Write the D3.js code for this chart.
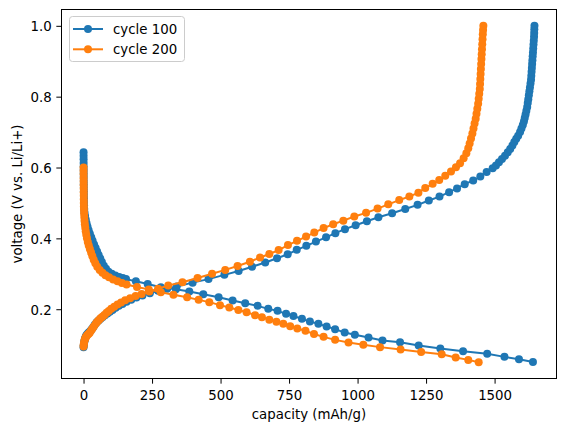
<!DOCTYPE html>
<html>
<head>
<meta charset="utf-8">
<script src="https://cdn.jsdelivr.net/npm/d3@7"></script>
<style>
  html, body { margin: 0; padding: 0; background: #ffffff; }
  svg { display: block; }
  text { font-family: "DejaVu Sans", sans-serif; fill: #000; }
</style>
</head>
<body>
<svg id="chart" width="567" height="432"></svg>
<script>
// ---------------- data ----------------
const seriesNames = ["cycle 100", "cycle 200"];
const seriesColors = ["#1f77b4", "#ff7f0e"];

// cycle 100 – discharge branch (capacity mAh/g, voltage V)
const cycle100DischargeCap = [0, 0.1, 0.2, 0.3, 0.4, 0.5, 0.6, 0.7, 0.8, 0.9, 1.0, 1.2, 1.4, 1.6, 1.8, 2.0, 2.5,
  3.5, 5.5, 8, 11, 14.5, 18.5, 23, 28, 33, 38.5, 44, 49.5, 55, 61, 67, 74, 82, 91, 103, 116, 130, 143,
  155, 191, 234, 282, 337, 386, 437, 493, 544, 590, 635, 674, 708, 739, 766, 797, 826, 857, 887, 918, 953, 990,
  1040, 1091, 1155, 1223, 1302, 1385, 1473, 1536, 1589, 1640];
const cycle100DischargeV = [0.643, 0.633, 0.623, 0.613, 0.603, 0.593, 0.583, 0.573, 0.563, 0.553, 0.543, 0.533, 0.523, 0.513, 0.503, 0.493, 0.483,
  0.473, 0.463, 0.453, 0.443, 0.433, 0.423, 0.413, 0.403, 0.393, 0.383, 0.373, 0.363, 0.353, 0.343, 0.333, 0.323, 0.314, 0.306, 0.300, 0.295, 0.291, 0.288,
  0.285, 0.279, 0.271, 0.262, 0.2566, 0.250, 0.2425, 0.234, 0.2245, 0.217, 0.2095, 0.201, 0.1954, 0.187, 0.181, 0.1728, 0.165, 0.159, 0.151, 0.1437, 0.134, 0.128,
  0.120, 0.1115, 0.107, 0.0974, 0.089, 0.0816, 0.074, 0.0655, 0.059, 0.051];

// cycle 100 – charge branch
const cycle100ChargeCap = [0, 0.7, 1.6, 2.8, 4.2, 6, 8.2, 11, 15, 19, 24, 29, 35, 41, 48, 55, 62, 70, 78, 87, 96, 106, 117, 129, 142, 157, 174, 193, 215, 242, 272, 305, 340,
  398, 456, 514, 566, 615, 663, 706, 745, 778, 813, 848, 885, 919, 954, 993, 1034, 1076, 1126, 1174, 1219, 1260, 1299, 1334, 1363, 1391, 1422, 1448, 1471, 1493,
  1505, 1516, 1527, 1538, 1548, 1557, 1565, 1572, 1579, 1586, 1593, 1598, 1603, 1607, 1610, 1613, 1616, 1619, 1621, 1623, 1625, 1627, 1629, 1631, 1633, 1634, 1635, 1636, 1637, 1638, 1639, 1640, 1641, 1642, 1643, 1644, 1644.5, 1645, 1645.5];
const cycle100ChargeV = [0.093, 0.098, 0.103, 0.108, 0.113, 0.118, 0.123, 0.127, 0.131, 0.134, 0.138, 0.143, 0.149, 0.156, 0.163, 0.168, 0.173, 0.178, 0.183, 0.188, 0.193, 0.198, 0.204, 0.210, 0.215, 0.221, 0.227, 0.233, 0.239, 0.245, 0.252, 0.258, 0.264,
  0.275, 0.285, 0.297, 0.308, 0.320, 0.332, 0.344, 0.355, 0.3676, 0.379, 0.391, 0.403, 0.4147, 0.426, 0.437, 0.4485, 0.4595, 0.471, 0.483, 0.4946, 0.507, 0.518, 0.5305, 0.541, 0.553, 0.5633, 0.5745, 0.587, 0.598,
  0.606, 0.615, 0.624, 0.633, 0.643, 0.652, 0.662, 0.672, 0.681, 0.690, 0.700, 0.710, 0.720, 0.730, 0.740, 0.750, 0.760, 0.771, 0.782, 0.793, 0.804, 0.815, 0.826, 0.837, 0.848, 0.859, 0.870, 0.881, 0.892, 0.903, 0.914, 0.925, 0.936, 0.947, 0.958, 0.969, 0.980, 0.990, 1.0];

// cycle 200 – discharge branch
const cycle200DischargeCap = [0, 0.1, 0.2, 0.3, 0.4, 0.5, 0.6, 0.7, 0.8, 0.9, 1.0, 1.2, 1.5, 2.0, 2.7, 3.6, 4.8, 6.3, 8.0, 10, 12.5, 15.5, 19, 23, 27.5, 32, 37, 43, 50, 59, 69, 80, 93, 108, 124, 140, 157,
  195, 238, 282, 328, 378, 420, 459, 498, 532, 565, 595, 626, 651, 678, 704, 729, 754, 780, 810, 841, 876, 918, 967, 1021, 1082, 1157, 1232, 1307, 1358, 1404, 1442];
const cycle200DischargeV = [0.600, 0.590, 0.580, 0.570, 0.560, 0.550, 0.540, 0.530, 0.520, 0.510, 0.500, 0.490, 0.480, 0.470, 0.460, 0.450, 0.440, 0.430, 0.420, 0.410, 0.400, 0.390, 0.380, 0.370, 0.360, 0.350, 0.340, 0.330, 0.320, 0.311, 0.303, 0.296, 0.290, 0.284, 0.279, 0.274, 0.270,
  0.263, 0.256, 0.248, 0.241, 0.234, 0.2264, 0.220, 0.2115, 0.2047, 0.198, 0.1917, 0.183, 0.1776, 0.170, 0.1643, 0.159, 0.152, 0.1454, 0.139, 0.130, 0.122, 0.1135, 0.106, 0.100, 0.093, 0.086, 0.079, 0.073, 0.0635, 0.057, 0.0505];

// cycle 200 – charge branch
const cycle200ChargeCap = [0, 0.5, 1.5, 3, 5, 7.5, 10, 14, 18, 22, 27, 32, 38, 45, 51, 57, 63, 69, 76, 84, 92, 101, 112, 124, 137, 152, 170, 190, 212, 240, 272, 309,
  361, 416, 469, 517, 562, 607, 644, 678, 712, 746, 779, 812, 842, 876, 911, 948, 988, 1031, 1073, 1112, 1152, 1189, 1222, 1247, 1274, 1298, 1320, 1341, 1359, 1374, 1387, 1397, 1404,
  1409, 1414, 1419, 1423, 1427, 1431, 1434, 1437, 1440, 1442, 1444, 1446, 1447, 1448, 1449, 1450, 1451, 1452, 1453, 1454, 1455, 1456, 1457, 1458, 1459];
const cycle200ChargeV = [0.095, 0.100, 0.105, 0.110, 0.115, 0.120, 0.123, 0.127, 0.130, 0.133, 0.139, 0.145, 0.152, 0.160, 0.165, 0.170, 0.175, 0.179, 0.184, 0.190, 0.195, 0.201, 0.207, 0.213, 0.219, 0.225, 0.231, 0.237, 0.243, 0.250, 0.258, 0.267,
  0.276, 0.288, 0.300, 0.311, 0.322, 0.334, 0.346, 0.356, 0.367, 0.381, 0.393, 0.405, 0.4165, 0.429, 0.440, 0.450, 0.4616, 0.472, 0.484, 0.496, 0.508, 0.518, 0.529, 0.542, 0.554, 0.565, 0.5765, 0.589, 0.601, 0.612, 0.6265, 0.640, 0.6547,
  0.668, 0.682, 0.696, 0.710, 0.724, 0.738, 0.752, 0.766, 0.780, 0.794, 0.808, 0.822, 0.836, 0.850, 0.864, 0.878, 0.892, 0.906, 0.920, 0.934, 0.948, 0.962, 0.976, 0.988, 1.0];

const xTickValues = [0, 250, 500, 750, 1000, 1250, 1500];
const yTickValues = [0.2, 0.4, 0.6, 0.8, 1.0];
const xLabel = "capacity (mAh/g)";
const yLabel = "voltage (V vs. Li/Li+)";

// ---------------- build ----------------
const zip = (a, b) => a.map((v, i) => [v, b[i]]);
const series = [
  { name: seriesNames[0], color: seriesColors[0],
    branches: [zip(cycle100DischargeCap, cycle100DischargeV), zip(cycle100ChargeCap, cycle100ChargeV)] },
  { name: seriesNames[1], color: seriesColors[1],
    branches: [zip(cycle200DischargeCap, cycle200DischargeV), zip(cycle200ChargeCap, cycle200ChargeV)] }
];

const plot = { left: 61, right: 557, top: 9, bottom: 379 };

const allPts = series.flatMap(s => s.branches.flat());
const xExt = d3.extent(allPts, d => d[0]);
const yExt = d3.extent(allPts, d => d[1]);
const xPad = (xExt[1] - xExt[0]) * 0.05, yPad = (yExt[1] - yExt[0]) * 0.05;

const x = d3.scaleLinear().domain([xExt[0] - xPad, xExt[1] + xPad]).range([plot.left, plot.right]);
const y = d3.scaleLinear().domain([yExt[0] - yPad, yExt[1] + yPad]).range([plot.bottom, plot.top]);

const svg = d3.select("#chart");
const fontPx = 13.33;
const lw = 2, mr = 4;

const clipId = "plotclip";
svg.append("defs").append("clipPath").attr("id", clipId)
  .append("rect").attr("x", plot.left).attr("y", plot.top)
  .attr("width", plot.right - plot.left).attr("height", plot.bottom - plot.top);

const gData = svg.append("g").attr("clip-path", `url(#${clipId})`);
const line = d3.line().x(d => x(d[0])).y(d => y(d[1]));

series.forEach(s => {
  s.branches.forEach(br => {
    const g = gData.append("g");
    g.append("path").datum(br).attr("d", line)
      .attr("fill", "none").attr("stroke", s.color).attr("stroke-width", lw)
      .attr("stroke-linejoin", "round").attr("stroke-linecap", "butt");
    g.selectAll("circle").data(br).join("circle")
      .attr("cx", d => x(d[0])).attr("cy", d => y(d[1])).attr("r", mr)
      .attr("fill", s.color);
  });
});

// axes
const xAxis = d3.axisBottom(x).tickValues(xTickValues).tickFormat(d3.format("d")).tickSize(4.67).tickPadding(4.67);
const yAxis = d3.axisLeft(y).tickValues(yTickValues).tickFormat(d3.format(".1f")).tickSize(4.67).tickPadding(4.67);

const gx = svg.append("g").attr("transform", `translate(0,${plot.bottom})`).call(xAxis);
const gy = svg.append("g").attr("transform", `translate(${plot.left},0)`).call(yAxis);
[gx, gy].forEach(g => {
  g.select(".domain").remove();
  g.selectAll(".tick line").attr("stroke", "#000").attr("stroke-width", 1);
  g.selectAll(".tick text").attr("font-size", fontPx).attr("fill", "#000")
    .attr("font-family", "DejaVu Sans, sans-serif");
});
gx.selectAll(".tick text").attr("dy", null).attr("y", 21).attr("dominant-baseline", "auto");
gy.selectAll(".tick text").attr("dy", "0.36em");

// spines
svg.append("rect").attr("x", plot.left + 0.5).attr("y", plot.top + 0.5)
  .attr("width", plot.right - plot.left - 1).attr("height", plot.bottom - plot.top - 1)
  .attr("fill", "none").attr("stroke", "#000").attr("stroke-width", 1);

// axis labels
svg.append("text").attr("x", (plot.left + plot.right) / 2).attr("y", 419)
  .attr("text-anchor", "middle").attr("font-size", fontPx).text(xLabel);
svg.append("text").attr("transform", `translate(22,${(plot.top + plot.bottom) / 2}) rotate(-90)`)
  .attr("text-anchor", "middle").attr("font-size", fontPx).text(yLabel);

// legend
const lg = svg.append("g");
lg.append("rect").attr("x", 69.5).attr("y", 16.5).attr("width", 115).attr("height", 45)
  .attr("rx", 3).attr("fill", "#fff").attr("fill-opacity", 0.8)
  .attr("stroke", "#cccccc").attr("stroke-width", 1);
series.forEach((s, i) => {
  const cy = 29 + i * 20.3;
  lg.append("line").attr("x1", 73).attr("x2", 103).attr("y1", cy).attr("y2", cy)
    .attr("stroke", s.color).attr("stroke-width", lw);
  lg.append("circle").attr("cx", 88).attr("cy", cy).attr("r", mr).attr("fill", s.color);
  lg.append("text").attr("x", 113).attr("y", cy + 4.8).attr("font-size", fontPx).text(s.name);
});
</script>
</body>
</html>
